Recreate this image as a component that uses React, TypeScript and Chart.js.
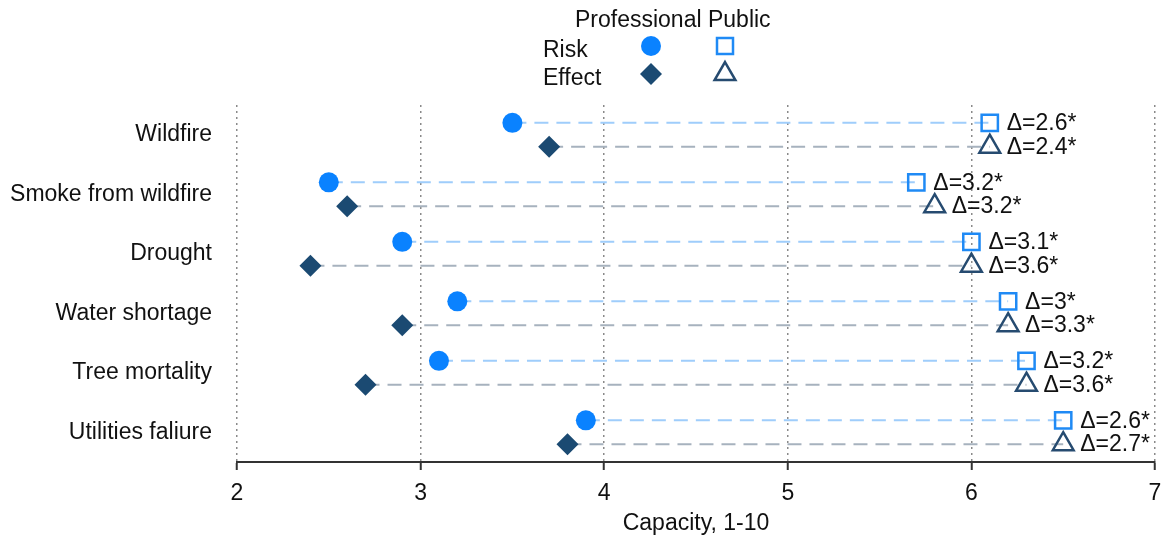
import React, { useEffect, useRef } from 'react';
import { Chart, registerables } from 'chart.js';

Chart.register(...registerables);

const categories = ['Wildfire', 'Smoke from wildfire', 'Drought', 'Water shortage', 'Tree mortality', 'Utilities faliure'];
const profRisk = [3.5, 2.5, 2.9, 3.2, 3.1, 3.9];
const pubRisk = [6.1, 5.7, 6.0, 6.2, 6.3, 6.5];
const profEffect = [3.7, 2.6, 2.4, 2.9, 2.7, 3.8];
const pubEffect = [6.1, 5.8, 6.0, 6.2, 6.3, 6.5];
const riskDelta = ['Δ=2.6*', 'Δ=3.2*', 'Δ=3.1*', 'Δ=3*', 'Δ=3.2*', 'Δ=2.6*'];
const effectDelta = ['Δ=2.4*', 'Δ=3.2*', 'Δ=3.6*', 'Δ=3.3*', 'Δ=3.6*', 'Δ=2.7*'];
const xMin = 2;
const xMax = 7;
const xTitle = 'Capacity, 1-10';

const FONT = '"Liberation Sans", Arial, sans-serif';
const TEXT = '#111111';
const C_PROF_RISK = '#0a82ff';
const C_PROF_EFF = '#1b4a72';
const C_PUB_RISK = '#1f8af5';
const C_PUB_EFF = '#264b70';
const C_LINE_RISK = '#9fcdfb';
const C_LINE_EFF = '#a7b2be';
const OFF = 0.2;

const deltaPlugin = {
  id: 'deltaLabels',
  afterDatasetsDraw(chart: any) {
    const { ctx, scales } = chart;
    ctx.save();
    ctx.font = `23px ${FONT}`;
    ctx.fillStyle = TEXT;
    ctx.textBaseline = 'middle';
    ctx.textAlign = 'left';
    categories.forEach((_, i) => {
      const x1 = scales.x.getPixelForValue(pubRisk[i]);
      const y1 = scales.y.getPixelForValue(i - OFF);
      ctx.fillText(riskDelta[i], x1 + 17, y1 + 1);
      const x2 = scales.x.getPixelForValue(pubEffect[i]);
      const y2 = scales.y.getPixelForValue(i + OFF);
      ctx.fillText(effectDelta[i], x2 + 17, y2 + 1);
    });
    ctx.restore();
  },
};

const legendPlugin = {
  id: 'customLegend',
  afterDraw(chart: any) {
    const { ctx } = chart;
    ctx.save();
    ctx.font = `23px ${FONT}`;
    ctx.fillStyle = TEXT;
    ctx.textBaseline = 'alphabetic';
    ctx.textAlign = 'left';
    ctx.fillText('Professional Public', 575, 27);
    ctx.fillText('Risk', 543, 57);
    ctx.fillText('Effect', 543, 85);
    ctx.beginPath();
    ctx.arc(651, 46, 10, 0, Math.PI * 2);
    ctx.fillStyle = C_PROF_RISK;
    ctx.fill();
    ctx.lineWidth = 2.5;
    ctx.strokeStyle = C_PUB_RISK;
    ctx.strokeRect(725 - 8, 46 - 8, 16, 16);
    ctx.beginPath();
    ctx.moveTo(651, 74 - 11);
    ctx.lineTo(651 + 11, 74);
    ctx.lineTo(651, 74 + 11);
    ctx.lineTo(651 - 11, 74);
    ctx.closePath();
    ctx.fillStyle = C_PROF_EFF;
    ctx.fill();
    const r = 12;
    const cy = 74;
    ctx.beginPath();
    ctx.moveTo(725, cy - r);
    ctx.lineTo(725 + r * Math.sin(Math.PI / 3), cy + r * 0.5);
    ctx.lineTo(725 - r * Math.sin(Math.PI / 3), cy + r * 0.5);
    ctx.closePath();
    ctx.strokeStyle = C_PUB_EFF;
    ctx.lineWidth = 2.5;
    ctx.stroke();
    ctx.restore();
  },
};

export default function App() {
  const ref = useRef<HTMLCanvasElement | null>(null);

  useEffect(() => {
    if (!ref.current) return;
    const lineSets: any[] = [];
    categories.forEach((_, i) => {
      lineSets.push({
        type: 'line',
        data: [
          { x: profRisk[i], y: i - OFF },
          { x: pubRisk[i], y: i - OFF },
        ],
        borderColor: C_LINE_RISK,
        borderWidth: 2,
        borderDash: [14, 8],
        pointRadius: 0,
        showLine: true,
        fill: false,
        order: 5,
      });
      lineSets.push({
        type: 'line',
        data: [
          { x: profEffect[i], y: i + OFF },
          { x: pubEffect[i], y: i + OFF },
        ],
        borderColor: C_LINE_EFF,
        borderWidth: 2,
        borderDash: [14, 8],
        pointRadius: 0,
        showLine: true,
        fill: false,
        order: 5,
      });
    });

    const chart = new Chart(ref.current, {
      type: 'scatter',
      data: {
        datasets: [
          {
            label: 'Professional Risk',
            data: profRisk.map((v, i) => ({ x: v, y: i - OFF })),
            pointStyle: 'circle',
            pointRadius: 10,
            pointBackgroundColor: C_PROF_RISK,
            pointBorderWidth: 0,
            order: 1,
          },
          {
            label: 'Professional Effect',
            data: profEffect.map((v, i) => ({ x: v, y: i + OFF })),
            pointStyle: 'rectRot',
            pointRadius: 11,
            pointBackgroundColor: C_PROF_EFF,
            pointBorderWidth: 0,
            order: 1,
          },
          {
            label: 'Public Risk',
            data: pubRisk.map((v, i) => ({ x: v, y: i - OFF })),
            pointStyle: 'rect',
            pointRadius: 11.5,
            pointBackgroundColor: 'rgba(0,0,0,0)',
            pointBorderColor: C_PUB_RISK,
            pointBorderWidth: 2.5,
            order: 1,
          },
          {
            label: 'Public Effect',
            data: pubEffect.map((v, i) => ({ x: v, y: i + OFF })),
            pointStyle: 'triangle',
            pointRadius: 12,
            pointBackgroundColor: 'rgba(0,0,0,0)',
            pointBorderColor: C_PUB_EFF,
            pointBorderWidth: 2.5,
            order: 1,
          },
          ...lineSets,
        ],
      },
      options: {
        animation: false,
        responsive: true,
        maintainAspectRatio: false,
        layout: { autoPadding: false, padding: { top: 105, left: 8, right: 11, bottom: 7 } },
        plugins: {
          legend: { display: false },
          tooltip: { enabled: false },
        },
        scales: {
          x: {
            type: 'linear',
            min: xMin,
            max: xMax,
            afterFit: (scale: any) => {
              scale.height = 75;
              scale.paddingRight = 0;
              scale.paddingLeft = 0;
            },
            ticks: {
              stepSize: 1,
              color: TEXT,
              font: { family: FONT, size: 23 },
              padding: 10,
            },
            grid: {
              color: '#8a8a8a',
              lineWidth: 1.5,
              tickColor: '#333',
              tickWidth: 2,
              tickLength: 8,
            },
            border: { display: true, color: '#333', width: 2, dash: [2, 4] },
            title: {
              display: true,
              text: xTitle,
              color: TEXT,
              font: { family: FONT, size: 23 },
              padding: { top: 4, bottom: 0 },
            },
          },
          y: {
            type: 'linear',
            reverse: true,
            min: -0.5,
            max: 5.5,
            afterFit: (scale: any) => {
              scale.width = 229;
              scale.paddingTop = 0;
              scale.paddingBottom = 0;
            },
            afterBuildTicks: (scale: any) => {
              scale.ticks = categories.map((_, i) => ({ value: i }));
            },
            ticks: {
              color: TEXT,
              font: { family: FONT, size: 23 },
              padding: 25,
              callback: (v: any) => categories[Number(v)] ?? '',
            },
            grid: { display: false, drawTicks: false },
            border: { display: false },
          },
        },
      },
      plugins: [deltaPlugin, legendPlugin],
    } as any);
    return () => chart.destroy();
  }, []);

  return (
    <div style={{ position: 'absolute', left: 0, top: 0, width: 1166, height: 544 }}>
      <canvas ref={ref} />
    </div>
  );
}
